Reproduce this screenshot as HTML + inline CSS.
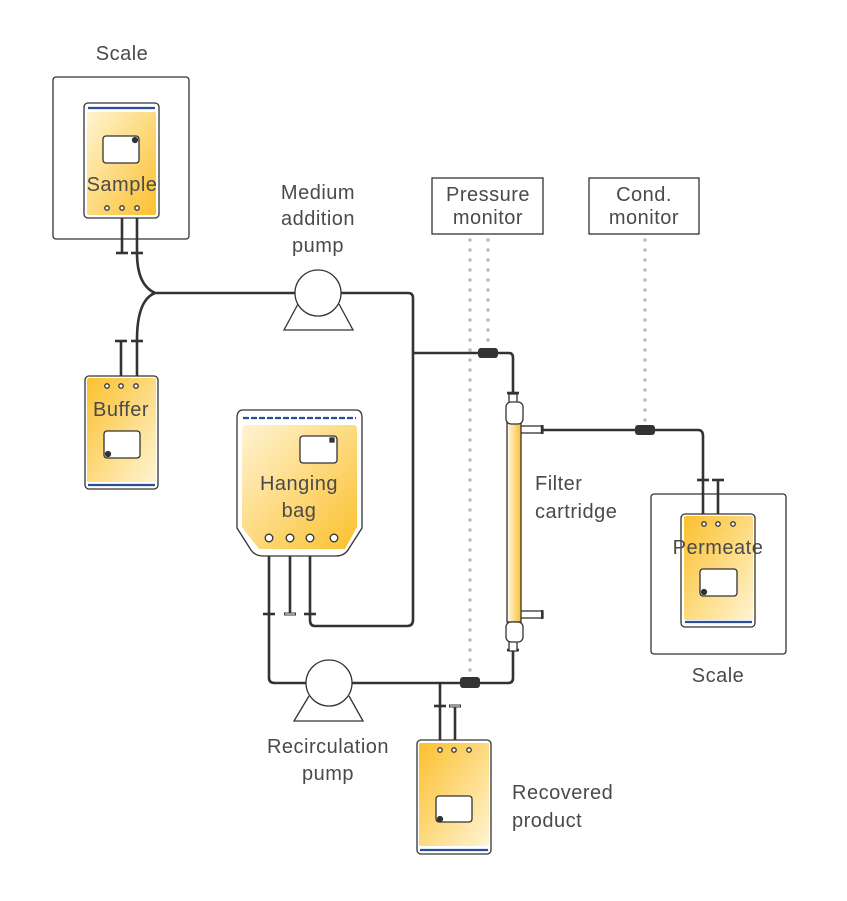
<!DOCTYPE html>
<html><head><meta charset="utf-8"><style>
html,body{margin:0;padding:0;background:#fff;}
svg{display:block;}
text{font-family:"Liberation Sans",sans-serif;font-size:20px;letter-spacing:0.5px;fill:#4a4a4a;}
</style></head><body>
<svg width="847" height="901" viewBox="0 0 847 901" xmlns="http://www.w3.org/2000/svg">
<defs>
<linearGradient id="gA" x1="0" y1="0" x2="1" y2="1"><stop offset="0" stop-color="#fff4d2"/><stop offset="1" stop-color="#fbc02d"/></linearGradient>
<linearGradient id="gB" x1="0" y1="0" x2="1" y2="1"><stop offset="0" stop-color="#fbc02d"/><stop offset="1" stop-color="#fff4d2"/></linearGradient>
<linearGradient id="gT" x1="0" y1="0" x2="1" y2="0"><stop offset="0" stop-color="#fffbee"/><stop offset="1" stop-color="#fbc02d"/></linearGradient>
</defs>
<g fill="none" stroke="#333" stroke-width="1.3">
<rect x="53" y="77" width="136" height="162" rx="3"/>
<rect x="651" y="494" width="135" height="160" rx="3"/>
<rect x="432" y="178" width="111" height="56"/>
<rect x="589" y="178" width="110" height="56"/>
</g>
<g stroke="#bbb" stroke-width="3.5" stroke-linecap="round" stroke-dasharray="0 10" fill="none">
<line x1="470" y1="240" x2="470" y2="676"/>
<line x1="488" y1="240" x2="488" y2="346"/>
<line x1="645" y1="240" x2="645" y2="424"/>
</g>
<g fill="none" stroke="#333" stroke-width="2.6">
<path d="M122 212 V253"/><path d="M116 253 H128"/>
<path d="M137 212 V253 Q137 285 155 293 H296"/><path d="M131 253 H143"/>
<path d="M121 388 V341"/><path d="M115 341 H127"/>
<path d="M137 388 V340 Q137 300 155 293"/><path d="M131 341 H143"/>
<path d="M341 293 H408 Q413 293 413 298 V620 Q413 626 407 626 H315 Q310 626 310 620 V540"/>
<path d="M413 353 H509 Q513 353 513 358 V395"/>
<path d="M507 393 H519"/>
<path d="M269 540 V678 Q269 683 275 683 H306"/>
<path d="M352 683 H508 Q513 683 513 678 V650"/>
<path d="M507 650 H519"/>
<path d="M263 614 H275"/><path d="M304 614 H316"/>
<path d="M290 540 V614"/>
<path d="M440 683 V748"/><path d="M434 706 H446"/>
<path d="M455 706 V748"/>
<path d="M543 430 H698 Q703 430 703 436 V520"/><path d="M697 480 H709"/>
<path d="M718 480 V520"/><path d="M712 480 H724"/>
</g>
<path d="M284 614 H296" stroke="#333" stroke-width="3" fill="none"/><path d="M285 614 H295" stroke="#fff" stroke-width="1" fill="none"/>
<path d="M449 706 H461" stroke="#333" stroke-width="3" fill="none"/><path d="M450 706 H460" stroke="#fff" stroke-width="1" fill="none"/>
<g fill="#333"><rect x="478" y="348" width="20" height="10" rx="3"/><rect x="460" y="677" width="20" height="11" rx="3"/><rect x="635" y="425" width="20" height="10" rx="3"/></g>
<g fill="#fff" stroke="#333" stroke-width="1.3">
<path d="M298 304 L284 330 H353 L339 304"/><circle cx="318" cy="293" r="23"/>
<path d="M309 696 L294 721 H363 L349 696"/><circle cx="329" cy="683" r="23"/>
</g>
<g stroke="#333" stroke-width="1.3">
<rect x="520" y="426" width="23" height="7" fill="#fff"/><path d="M542 425 V434" stroke-width="2.5"/>
<rect x="520" y="611" width="23" height="7" fill="#fff"/><path d="M542 610 V619" stroke-width="2"/>
<rect x="507" y="423" width="14" height="199" fill="url(#gT)"/>
<rect x="509" y="394" width="8" height="10" fill="#fff"/>
<rect x="506" y="402" width="17" height="22" rx="5" fill="#fff"/>
<rect x="509" y="640" width="8" height="11" fill="#fff"/>
<rect x="506" y="622" width="17" height="20" rx="5" fill="#fff"/>
</g>
<g stroke="#333" stroke-width="1.3">
<rect x="84" y="103" width="75" height="115" rx="4" fill="#fff"/>
<rect x="87" y="112" width="69" height="103" rx="2" fill="url(#gA)" stroke="none"/>
<path d="M88 108 H155" stroke="#2a4f9a" stroke-width="2.2"/>
<rect x="103" y="136" width="36" height="27" rx="3" fill="#fff"/>
<circle cx="135" cy="140" r="2.5" fill="#333"/>
<circle cx="107" cy="208" r="2.2" fill="#fff"/><circle cx="122" cy="208" r="2.2" fill="#fff"/><circle cx="137" cy="208" r="2.2" fill="#fff"/>
<rect x="85" y="376" width="73" height="113" rx="4" fill="#fff"/>
<rect x="87" y="378" width="69" height="104" rx="2" fill="url(#gB)" stroke="none"/>
<path d="M88 485 H155" stroke="#2a4f9a" stroke-width="2.2"/>
<rect x="104" y="431" width="36" height="27" rx="3" fill="#fff"/>
<circle cx="108" cy="454" r="2.5" fill="#333"/>
<circle cx="107" cy="386" r="2.2" fill="#fff"/><circle cx="121" cy="386" r="2.2" fill="#fff"/><circle cx="136" cy="386" r="2.2" fill="#fff"/>
<path d="M243 410 H356 Q362 410 362 418 V528 L348 550 Q344 556 336 556 H263 Q255 556 251 550 L237 528 V418 Q237 410 243 410 Z" fill="#fff"/>
<path d="M246 425 H354 Q357 425 357 430 V527 L345 549 H259 L242 527 V430 Q242 425 246 425 Z" fill="url(#gA)" stroke="none"/>
<path d="M243 418 H356" stroke="#2a4f9a" stroke-width="2.2" stroke-dasharray="6 2"/>
<rect x="300" y="436" width="37" height="27" rx="3" fill="#fff"/>
<rect x="330" y="438" width="4" height="4" fill="#333"/>
<circle cx="269" cy="538" r="3.8" fill="#fff"/><circle cx="290" cy="538" r="3.8" fill="#fff"/><circle cx="310" cy="538" r="3.8" fill="#fff"/><circle cx="334" cy="538" r="3.8" fill="#fff"/>
<rect x="681" y="514" width="74" height="113" rx="4" fill="#fff"/>
<rect x="684" y="516" width="69" height="104" rx="2" fill="url(#gB)" stroke="none"/>
<path d="M685 622 H752" stroke="#2a4f9a" stroke-width="2.2"/>
<rect x="700" y="569" width="37" height="27" rx="3" fill="#fff"/>
<circle cx="704" cy="592" r="2.5" fill="#333"/>
<circle cx="704" cy="524" r="2.2" fill="#fff"/><circle cx="718" cy="524" r="2.2" fill="#fff"/><circle cx="733" cy="524" r="2.2" fill="#fff"/>
<rect x="417" y="740" width="74" height="114" rx="4" fill="#fff"/>
<rect x="419" y="743" width="70" height="103" rx="2" fill="url(#gB)" stroke="none"/>
<path d="M420 850 H488" stroke="#2a4f9a" stroke-width="2.2"/>
<rect x="436" y="796" width="36" height="26" rx="3" fill="#fff"/>
<circle cx="440" cy="819" r="2.5" fill="#333"/>
<circle cx="440" cy="750" r="2.2" fill="#fff"/><circle cx="454" cy="750" r="2.2" fill="#fff"/><circle cx="469" cy="750" r="2.2" fill="#fff"/>
</g>
<g text-anchor="middle">
<text x="122" y="60">Scale</text>
<text x="122" y="191">Sample</text>
<text x="121" y="416">Buffer</text>
<text x="299" y="490">Hanging</text>
<text x="299" y="517">bag</text>
<text x="718" y="554">Permeate</text>
<text x="718" y="682">Scale</text>
<text x="318" y="199">Medium</text>
<text x="318" y="225">addition</text>
<text x="318" y="252">pump</text>
<text x="328" y="753">Recirculation</text>
<text x="328" y="780">pump</text>
<text x="488" y="201">Pressure</text>
<text x="488" y="224">monitor</text>
<text x="644" y="201">Cond.</text>
<text x="644" y="224">monitor</text>
</g>
<text x="535" y="490">Filter</text>
<text x="535" y="518">cartridge</text>
<text x="512" y="799">Recovered</text>
<text x="512" y="827">product</text>
</svg>
</body></html>
